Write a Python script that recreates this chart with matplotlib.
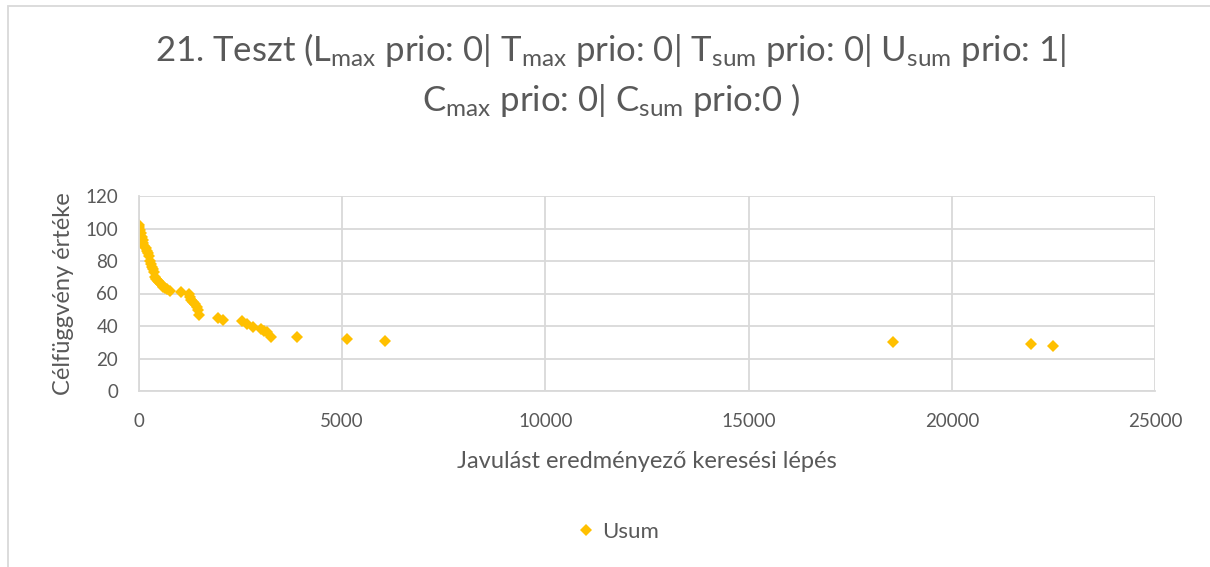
import matplotlib
matplotlib.use("Agg")
import matplotlib.pyplot as plt
from matplotlib.lines import Line2D

plt.rcParams['font.family'] = ['Lato', 'DejaVu Sans']
plt.rcParams['mathtext.fontset'] = 'custom'
plt.rcParams['mathtext.rm'] = 'Lato'
plt.rcParams['mathtext.it'] = 'Lato'

steps = [0, 10, 30, 50, 70, 90, 110, 130, 160, 200, 220, 250, 270, 300, 320, 350, 370, 395, 420,
         460, 490, 540, 590, 650, 700, 760, 1025, 1230, 1260, 1290, 1330, 1380, 1420, 1450, 1475,
         1935, 2075, 2525, 2650, 2795, 2990, 3080, 3140, 3245, 3900, 5130, 6065, 18560, 21940, 22480]
values = [102, 101, 99, 97, 95, 93, 91, 89, 88, 86, 85, 83, 80, 78, 76.5, 75, 73, 70, 69,
          68, 67, 66, 64, 63.5, 63, 61.5, 61, 60, 58, 56, 55, 53.5, 52, 50, 47,
          45, 44, 43, 41.5, 39.6, 38, 37, 36.5, 33.5, 33, 32, 31, 30, 29, 28]

color = '#FFC000'
grey = '#595959'
fig = plt.figure(figsize=(12.1, 5.67), dpi=100)
ax = fig.add_axes([139/1210, 1 - 391/567, (1155-139)/1210, (391-196)/567])

ax.plot(steps, values, linestyle='none', marker='D', markersize=6, color=color,
        markeredgewidth=0, label='Usum')

ax.set_xlim(0, 25000)
ax.set_ylim(0, 120)
ax.set_xticks([0, 5000, 10000, 15000, 20000, 25000])
ax.set_yticks([0, 20, 40, 60, 80, 100, 120])
ax.grid(True, color='#D9D9D9', linewidth=1.3)
ax.set_axisbelow(True)
for s in ax.spines.values():
    s.set_visible(False)
for side in ('left', 'bottom'):
    ax.spines[side].set_visible(True)
    ax.spines[side].set_color('#D9D9D9')
    ax.spines[side].set_linewidth(1.3)
ax.tick_params(axis='both', length=0, labelsize=13.5, colors=grey)
ax.tick_params(axis='x', pad=16)
ax.tick_params(axis='y', pad=15)

ax.set_xlabel('Javulást eredményező keresési lépés', fontsize=17, color=grey, labelpad=15)
ax.set_ylabel('Célfüggvény értéke', fontsize=17, color=grey, labelpad=8)

title1 = r'21. Teszt (L$_{\mathrm{max}}$ prio: 0| T$_{\mathrm{max}}$ prio: 0| T$_{\mathrm{sum}}$ prio: 0| U$_{\mathrm{sum}}$ prio: 1|'
title2 = r'C$_{\mathrm{max}}$ prio: 0| C$_{\mathrm{sum}}$ prio:0 )'
fig.text(0.505, 1 - 50/567, title1, ha='center', va='center', fontsize=25, color=grey)
fig.text(0.505, 1 - 100/567, title2, ha='center', va='center', fontsize=25, color=grey)

handle = Line2D([], [], linestyle='none', marker='D', markersize=6, color=color, markeredgewidth=0)
fig.legend([handle], ['Usum'], loc='center', bbox_to_anchor=(0.509, 1 - 532/567),
           frameon=False, fontsize=16, handletextpad=0.1, handlelength=1.2, labelcolor=grey)

# chart border
fig.patches.append(plt.Rectangle((8/1210, -0.01), 1.5, 1 - 6/567 + 0.01, transform=fig.transFigure,
                                 fill=False, edgecolor='#D9D9D9', linewidth=1.3))

fig.savefig('out.png', dpi=100)
